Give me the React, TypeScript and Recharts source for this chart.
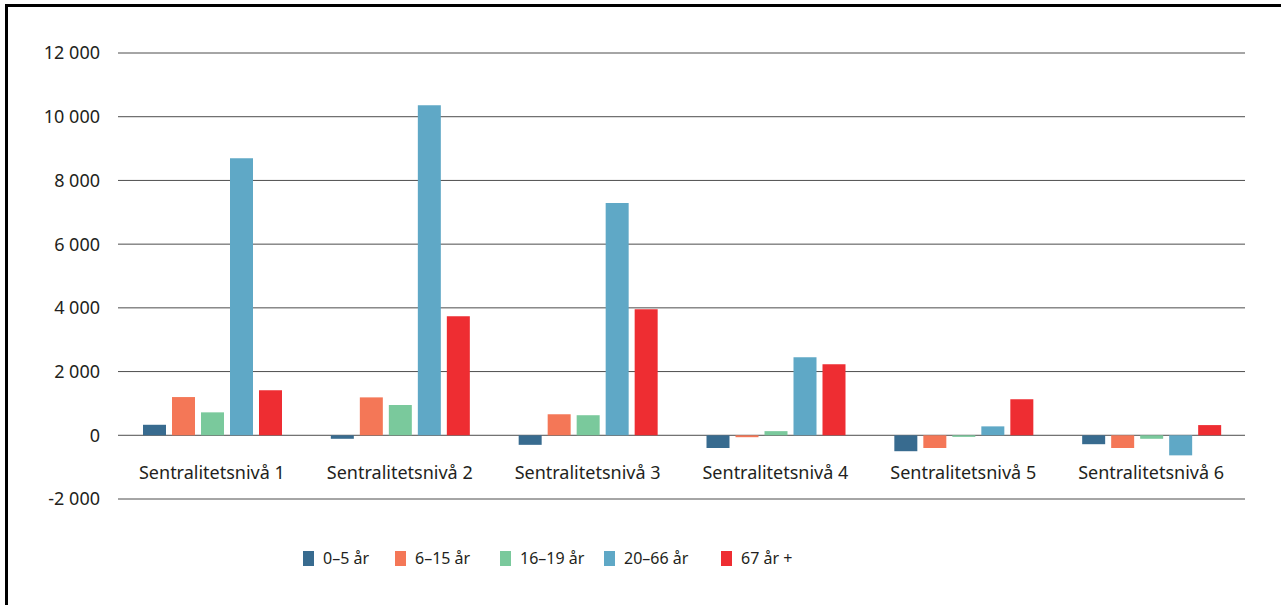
import { Bar, BarChart, CartesianGrid, Legend, XAxis, YAxis } from "recharts";

const categories = [
  "Sentralitetsnivå 1",
  "Sentralitetsnivå 2",
  "Sentralitetsnivå 3",
  "Sentralitetsnivå 4",
  "Sentralitetsnivå 5",
  "Sentralitetsnivå 6",
];

const age0to5 = [330, -110, -300, -400, -500, -280];
const age6to15 = [1200, 1190, 660, -60, -400, -400];
const age16to19 = [720, 950, 630, 130, -50, -110];
const age20to66 = [8700, 10360, 7290, 2450, 280, -630];
const age67plus = [1410, 3740, 3960, 2230, 1130, 320];

const yTicks = [-2000, 0, 2000, 4000, 6000, 8000, 10000, 12000];

const seriesNames = ["0–5 år", "6–15 år", "16–19 år", "20–66 år", "67 år +"];
const seriesColors = ["#386b8f", "#f47757", "#7ac99c", "#5fa8c6", "#ee2d32"];

const data = categories.map((name, i) => ({
  name,
  a: age0to5[i],
  b: age6to15[i],
  c: age16to19[i],
  d: age20to66[i],
  e: age67plus[i],
}));
const keys = ["a", "b", "c", "d", "e"];

const FONT = "'Noto Sans', 'Open Sans', sans-serif";
const TEXT = "#231f20";
// spacing between legend entries (left edge to left edge of the swatches)
const legendSteps = [92, 105, 104, 117, 0];

const fmt = (v: number) => {
  const s = Math.abs(v).toString().replace(/\B(?=(\d{3})+(?!\d))/g, " ");
  return v < 0 ? "-" + s : s;
};

const CatTick = (props: any) => {
  const { x, y, payload } = props;
  return (
    <text x={x} y={y - 26} dy="0.35em" textAnchor="middle" fill={TEXT} fontSize={18} fontFamily={FONT}>
      {payload.value}
    </text>
  );
};

const LegendBox = () => (
  <div style={{ display: "flex", paddingLeft: 303, height: 56, fontFamily: FONT, fontSize: 16, color: TEXT }}>
    {seriesNames.map((n, i) => (
      <div
        key={n}
        style={{ display: "flex", alignItems: "center", width: legendSteps[i] || undefined, height: 18, whiteSpace: "nowrap" }}
      >
        <span style={{ display: "inline-block", width: 11, height: 15, background: seriesColors[i], marginRight: 9 }} />
        <span>{n}</span>
      </div>
    ))}
  </div>
);

const App = () => {
  return (
    <div style={{ position: "absolute", left: 0, top: 0, width: 1281, height: 605, background: "#fff" }}>
      <div
        style={{
          position: "absolute",
          left: 5,
          top: 4,
          right: 0,
          bottom: 0,
          borderLeft: "3px solid #000",
          borderTop: "3px solid #000",
        }}
      />
      <BarChart
        width={1281}
        height={605}
        data={data}
        margin={{ top: 53, right: 36, left: 0, bottom: 0 }}
        barCategoryGap={25}
        barGap={6}
      >
        <CartesianGrid vertical={false} stroke="#4d4d4d" strokeWidth={1} />
        <XAxis
          dataKey="name"
          axisLine={false}
          tickLine={false}
          tickSize={0}
          tickMargin={0}
          height={50}
          tick={<CatTick />}
          interval={0}
        />
        <YAxis
          width={118}
          domain={[-2000, 12000]}
          ticks={yTicks}
          axisLine={false}
          tickLine={false}
          tickSize={0}
          tickMargin={18}
          tickFormatter={fmt}
          tick={{ fill: TEXT, fontSize: 18, fontFamily: FONT }}
        />
        <Legend verticalAlign="bottom" content={<LegendBox />} />
        {keys.map((k, i) => (
          <Bar key={k} dataKey={k} name={seriesNames[i]} fill={seriesColors[i]} isAnimationActive={false} />
        ))}
      </BarChart>
    </div>
  );
};

export default App;
